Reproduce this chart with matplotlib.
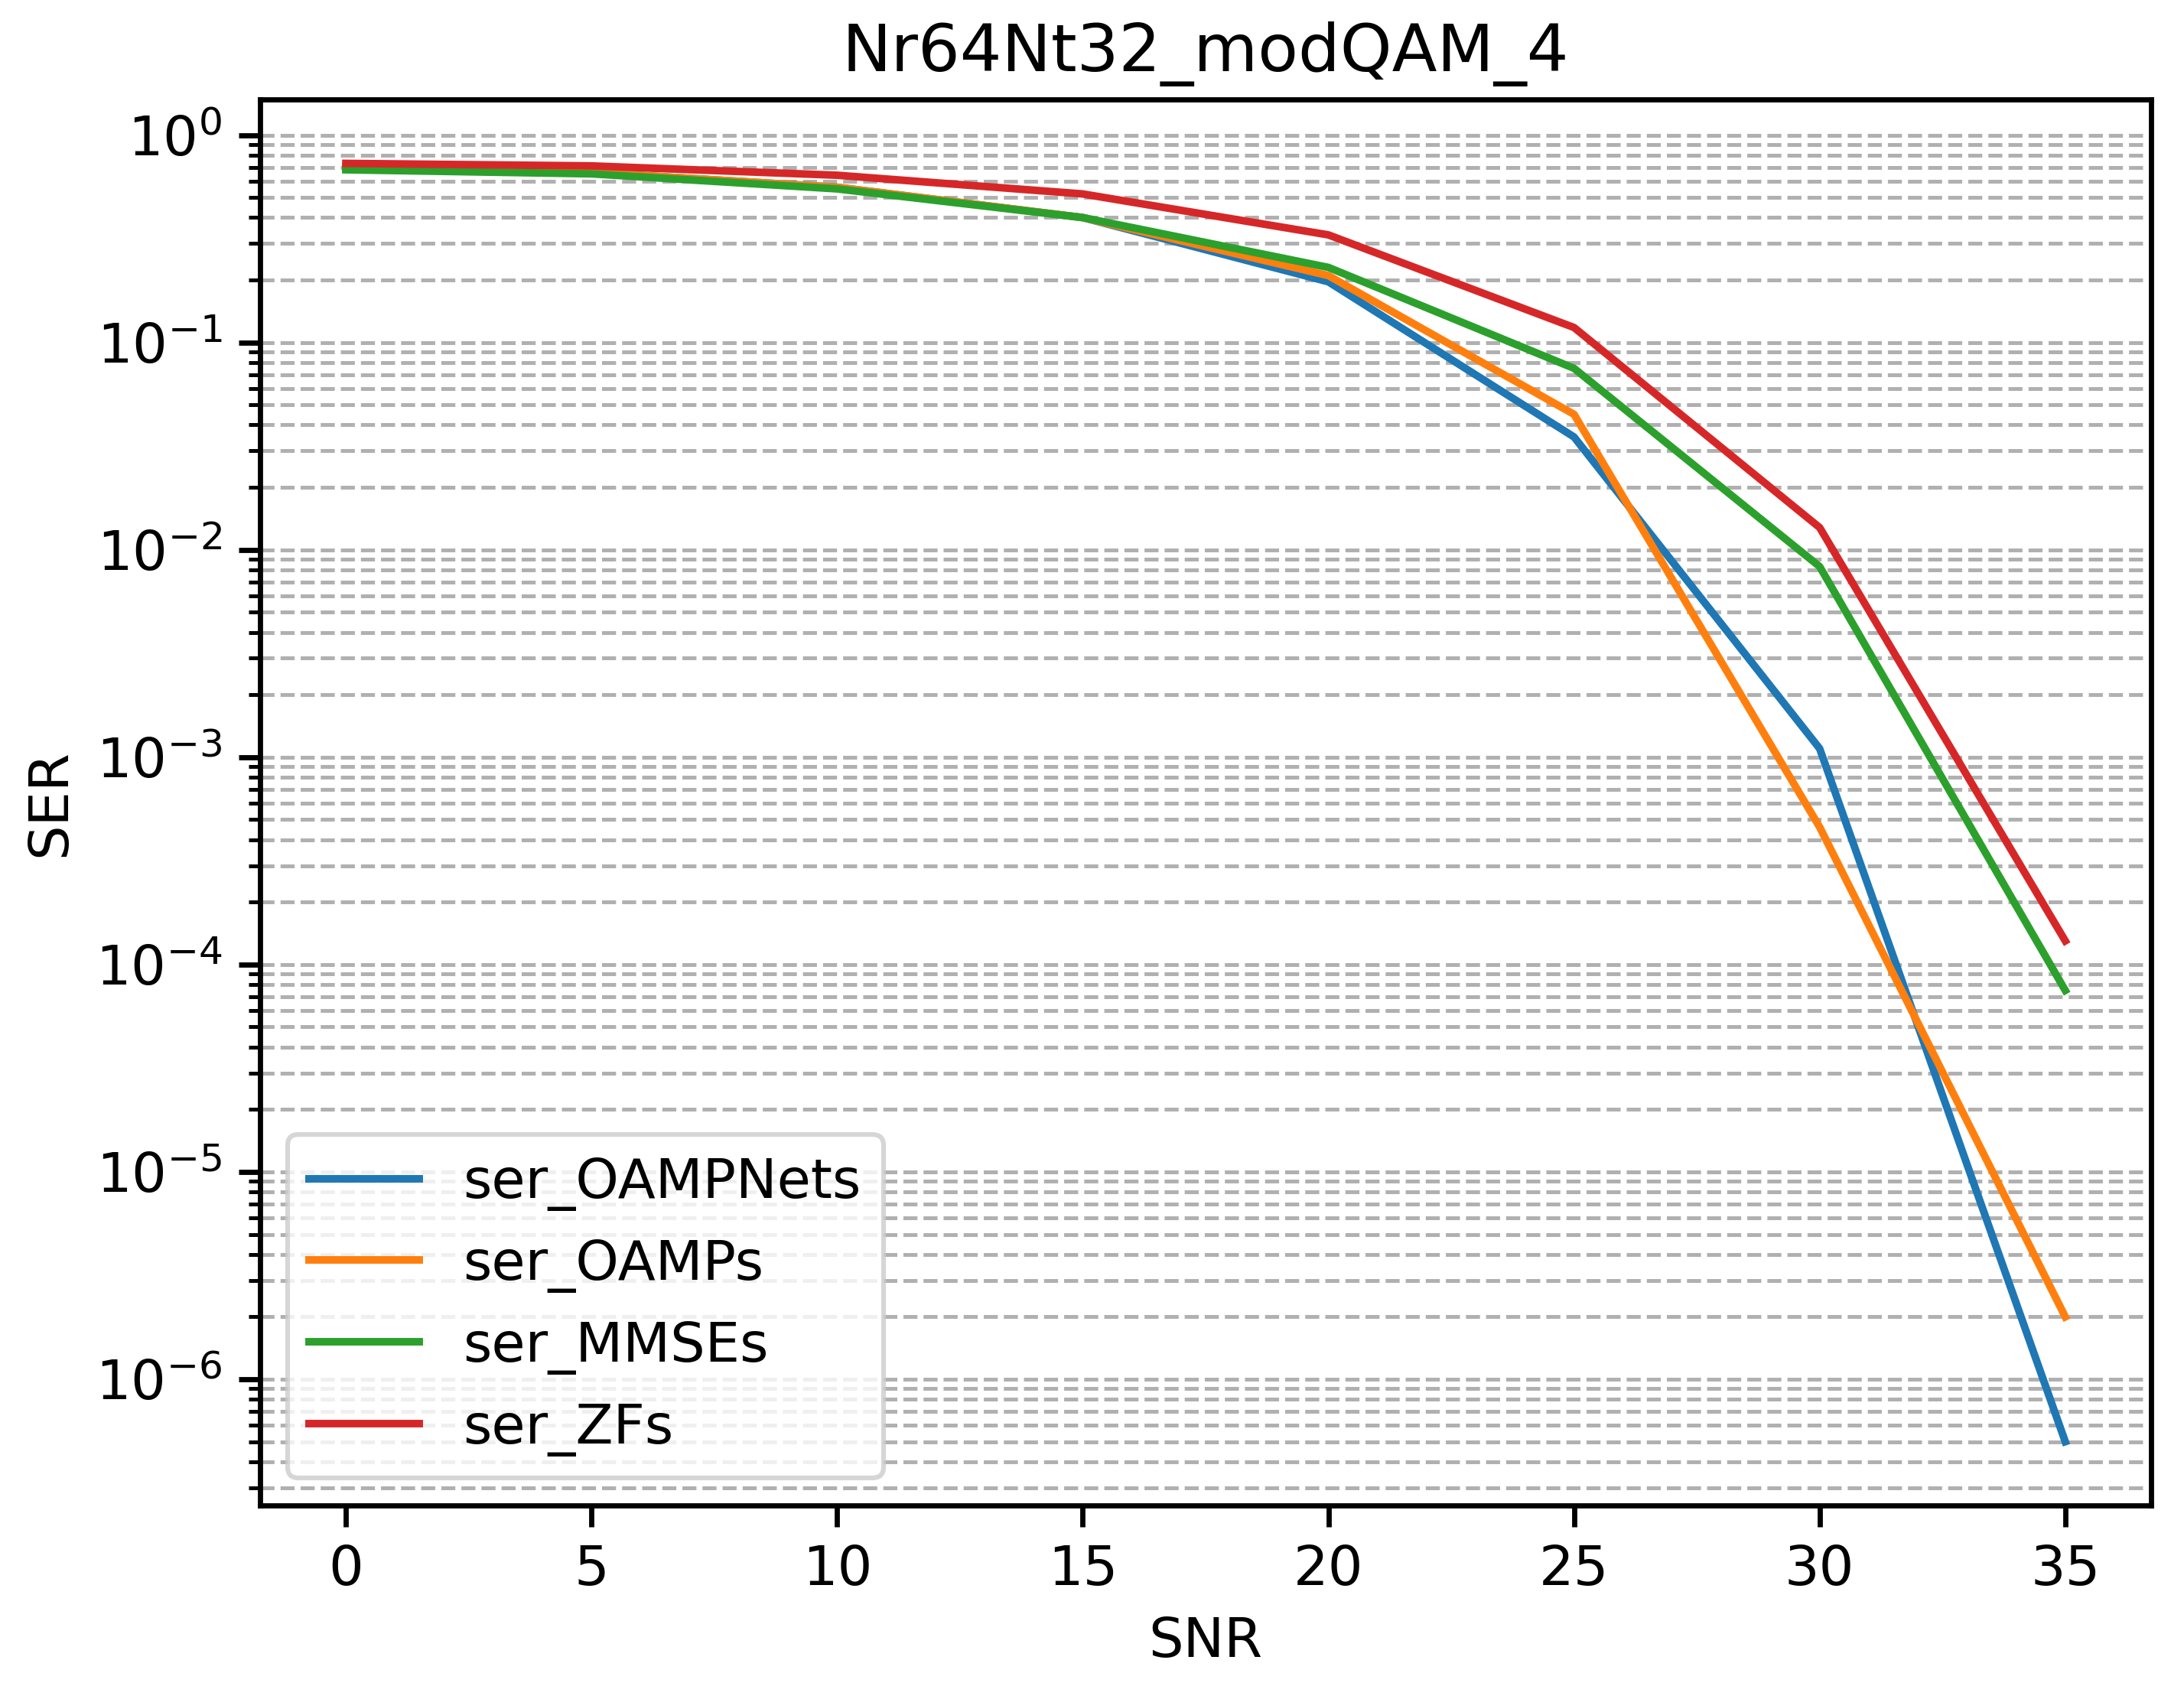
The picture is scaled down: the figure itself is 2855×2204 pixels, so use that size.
import numpy as np
import matplotlib
matplotlib.use('Agg')
import matplotlib.pyplot as plt

# SER vs SNR
snr = [0, 5, 10, 15, 20, 25, 30, 35]
ser_OAMPNets = [0.69, 0.66, 0.56, 0.40, 0.196, 0.035, 0.0011, 5.0e-7]
ser_OAMPs = [0.70, 0.66, 0.56, 0.40, 0.21, 0.045, 4.6e-4, 2.0e-6]
ser_MMSEs = [0.68, 0.65, 0.55, 0.40, 0.23, 0.075, 0.0083, 7.5e-5]
ser_ZFs = [0.73, 0.71, 0.64, 0.52, 0.33, 0.118, 0.0128, 1.3e-4]

fs = 11.6
fig = plt.figure(figsize=(2855 / 446, 2204 / 446), dpi=446)
ax = fig.add_axes([0.119, 0.107, 0.866, 0.834])
ax.plot(snr, ser_OAMPNets, label='ser_OAMPNets', lw=1.6)
ax.plot(snr, ser_OAMPs, label='ser_OAMPs', lw=1.6)
ax.plot(snr, ser_MMSEs, label='ser_MMSEs', lw=1.6)
ax.plot(snr, ser_ZFs, label='ser_ZFs', lw=1.6)
ax.set_yscale('log')
ax.grid(True, which='both', axis='y', linestyle='--')
ax.set_xlabel('SNR', fontsize=fs)
ax.set_ylabel('SER', fontsize=fs)
ax.set_title('Nr64Nt32_modQAM_4', fontsize=fs * 1.2)
ax.tick_params(labelsize=fs, width=1.1, length=4.5)
ax.tick_params(which='minor', width=0.8, length=2.5)
for s in ax.spines.values():
    s.set_linewidth(1.1)
ax.legend(loc='lower left', fontsize=fs)
fig.savefig('out.png', dpi=446)
